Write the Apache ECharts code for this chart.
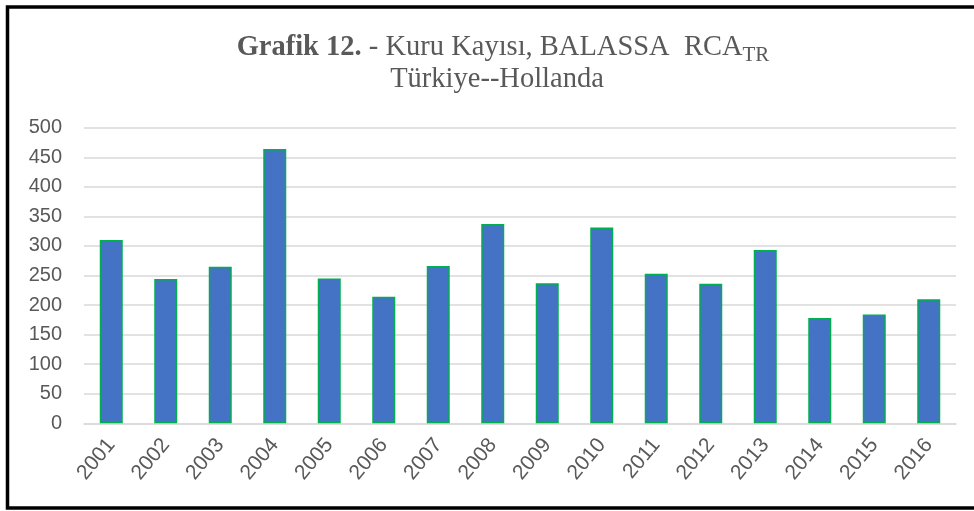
<!DOCTYPE html>
<html>
<head>
<meta charset="utf-8">
<script src="https://cdn.jsdelivr.net/npm/echarts@6/dist/echarts.min.js"></script>
<style>
  html, body { margin: 0; padding: 0; background: #fff; }
  #chart { width: 974px; height: 511px; }
</style>
</head>
<body>
<div id="chart"></div>
<script>
// Balassa RCA, dried apricots, Turkey -> Netherlands
const YEARS = ["2001", "2002", "2003", "2004", "2005", "2006", "2007", "2008",
               "2009", "2010", "2011", "2012", "2013", "2014", "2015", "2016"];
const RCA = [310, 244, 265, 464, 245, 214, 266, 337,
             237, 331, 253, 236, 293, 178, 184, 210];
const Y_MIN = 0, Y_MAX = 500, Y_STEP = 50;

const TXT = "#595959";
const SERIF = "'Liberation Serif', 'Times New Roman', serif";
const SANS = "'Liberation Sans', Arial, sans-serif";

const chart = echarts.init(document.getElementById("chart"), null, { renderer: "canvas" });

chart.setOption({
  animation: false,
  title: [
    {
      text: "{b|Grafik 12.}{n| - Kuru Kayısı, BALASSA  RCA}{s|TR}",
      left: 503, top: 30, textAlign: "center", padding: 0,
      textStyle: {
        fontWeight: "normal",
        rich: {
          b: { fontFamily: SERIF, fontSize: 28.5, fontWeight: "bold", color: TXT, lineHeight: 36 },
          n: { fontFamily: SERIF, fontSize: 28.5, fontWeight: "normal", color: TXT, lineHeight: 36 },
          s: { fontFamily: SERIF, fontSize: 21, fontWeight: "normal", color: TXT, lineHeight: 19, verticalAlign: "bottom" },
        },
      },
    },
    {
      text: "Türkiye--Hollanda",
      left: 497, top: 62, textAlign: "center", padding: 0,
      textStyle: { fontFamily: SERIF, fontSize: 28.5, fontWeight: "normal", color: TXT, lineHeight: 36 },
    },
  ],
  grid: { left: 84, right: 18, top: 127.7, bottom: 87.7, containLabel: false },
  xAxis: {
    type: "category",
    data: YEARS,
    axisLine: { lineStyle: { color: "#D9D9D9", width: 1.5 } },
    axisTick: { show: false },
    axisLabel: { color: TXT, fontFamily: SANS, fontSize: 21, rotate: 50, margin: 18, interval: 0 },
  },
  yAxis: {
    type: "value",
    min: Y_MIN, max: Y_MAX, interval: Y_STEP,
    axisLine: { show: false },
    axisTick: { show: false },
    axisLabel: { color: TXT, fontFamily: SANS, fontSize: 20, margin: 22 },
    splitLine: { lineStyle: { color: "#D9D9D9", width: 1.5 } },
  },
  series: [{
    type: "bar",
    data: RCA,
    barWidth: 23,
    itemStyle: { color: "#4472C4", borderColor: "#00B050", borderWidth: 1.5 },
  }],
  graphic: [{
    type: "rect",
    shape: { x: 7.5, y: 7, width: 990, height: 501 },
    style: { fill: "none", stroke: "#000", lineWidth: 3.5 },
    silent: true,
  }],
});
</script>
</body>
</html>
